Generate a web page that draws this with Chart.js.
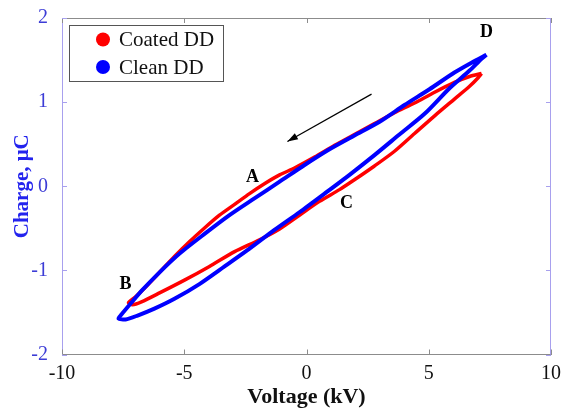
<!DOCTYPE html>
<html>
<head>
<meta charset="utf-8">
<script src="https://cdn.jsdelivr.net/npm/chart.js@4.4.1/dist/chart.umd.min.js"></script>
<style>
  html, body { margin: 0; padding: 0; background: #fff; }
  #wrap { width: 564px; height: 412px; position: relative; }
</style>
</head>
<body>
<div id="wrap"><canvas id="c" width="564" height="412"></canvas></div>
<script>
// ---- data (Voltage kV, Charge µC), each loop traced around ----
const cleanV = [7.36, 6.75, 6.05, 5.03, 4.01, 2.99, 1.96, 0.94, -0.08, -1.10, -2.13, -3.15, -4.17, -5.19, -6.01, -6.71, -7.20, -7.57, -7.69,
                -7.40, -6.91, -6.22, -5.40, -4.38, -3.35, -2.33, -1.31, -0.29, 0.74, 1.76, 2.78, 3.80, 4.83, 5.85, 6.67, 7.16, 7.36];
const cleanQ = [1.563, 1.469, 1.352, 1.153, 0.966, 0.767, 0.604, 0.440, 0.253, 0.054, -0.145, -0.344, -0.567, -0.800, -1.023, -1.233, -1.397, -1.525, -1.572,
                -1.584, -1.537, -1.455, -1.338, -1.163, -0.953, -0.742, -0.519, -0.309, -0.087, 0.136, 0.370, 0.615, 0.861, 1.165, 1.375, 1.516, 1.563];
const coatedV = [7.16, 6.67, 6.05, 5.24, 4.42, 3.60, 2.78, 1.96, 1.15, 0.33, -0.49, -1.10, -1.72, -2.33, -2.94, -3.56, -4.17, -4.79, -5.40, -6.01, -6.58, -6.99, -7.28,
                 -7.12, -6.75, -6.01, -4.99, -3.97, -2.94, -1.92, -1.10, -0.29, 0.53, 1.35, 1.96, 2.78, 3.60, 4.42, 5.24, 6.05, 6.67, 7.03, 7.16];
const coatedQ = [1.340, 1.305, 1.235, 1.118, 0.990, 0.873, 0.744, 0.615, 0.486, 0.346, 0.217, 0.135, 0.030, -0.087, -0.215, -0.344, -0.496, -0.660, -0.835, -1.023, -1.198, -1.315, -1.385,
                 -1.409, -1.374, -1.268, -1.116, -0.953, -0.777, -0.636, -0.507, -0.344, -0.180, -0.040, 0.077, 0.241, 0.416, 0.627, 0.837, 1.036, 1.188, 1.293, 1.340];
const seriesNames = ["Coated DD", "Clean DD"];
const xTicks = [-10, -5, 0, 5, 10];
const yTicks = [-2, -1, 0, 1, 2];
const pointLabels = ["A", "B", "C", "D"];
const pointLabelV = [-2.21, -7.4, 1.64, 7.36];
const pointLabelQ = [0.11, -1.17, -0.20, 1.83];
const arrowFromV = 2.66, arrowFromQ = 1.095, arrowToV = -0.78, arrowToQ = 0.533;

const toPts = (xs, ys) => xs.map((x, i) => ({x: x, y: ys[i]}));
const SERIF = "'Liberation Serif', 'Times New Roman', serif";
const BLUE_TXT = '#3c3cd6';

const decor = {
  id: 'decor',
  afterDraw(chart) {
    const ctx = chart.ctx, a = chart.chartArea;
    const xs = chart.scales.x, ys = chart.scales.y;
    ctx.save();
    // top and right borders
    ctx.lineWidth = 1;
    ctx.strokeStyle = '#8c8c8c';
    ctx.beginPath(); ctx.moveTo(a.left, a.top + 0.5); ctx.lineTo(a.right, a.top + 0.5); ctx.stroke();
    ctx.strokeStyle = '#a8a0ee';
    ctx.beginPath(); ctx.moveTo(a.right - 0.5, a.top); ctx.lineTo(a.right - 0.5, a.bottom); ctx.stroke();
    // inward ticks
    ctx.strokeStyle = '#8c8c8c';
    xTicks.forEach(v => {
      const p = Math.round(xs.getPixelForValue(v)) + 0.5;
      ctx.beginPath(); ctx.moveTo(p, a.bottom); ctx.lineTo(p, a.bottom - 5); ctx.stroke();
      ctx.beginPath(); ctx.moveTo(p, a.top); ctx.lineTo(p, a.top + 5); ctx.stroke();
    });
    ctx.strokeStyle = '#a8a0ee';
    yTicks.forEach(v => {
      const p = Math.round(ys.getPixelForValue(v)) + 0.5;
      ctx.beginPath(); ctx.moveTo(a.left, p); ctx.lineTo(a.left + 5, p); ctx.stroke();
      ctx.beginPath(); ctx.moveTo(a.right, p); ctx.lineTo(a.right - 5, p); ctx.stroke();
    });
    // arrow
    const x1 = xs.getPixelForValue(arrowFromV), y1 = ys.getPixelForValue(arrowFromQ);
    const x2 = xs.getPixelForValue(arrowToV), y2 = ys.getPixelForValue(arrowToQ);
    ctx.strokeStyle = '#000'; ctx.fillStyle = '#000'; ctx.lineWidth = 1.2;
    ctx.beginPath(); ctx.moveTo(x1, y1); ctx.lineTo(x2, y2); ctx.stroke();
    const ang = Math.atan2(y2 - y1, x2 - x1), L = 11, W = 0.32;
    ctx.beginPath();
    ctx.moveTo(x2, y2);
    ctx.lineTo(x2 - L * Math.cos(ang - W), y2 - L * Math.sin(ang - W));
    ctx.lineTo(x2 - L * Math.cos(ang + W), y2 - L * Math.sin(ang + W));
    ctx.closePath(); ctx.fill();
    // point labels
    ctx.font = 'bold 18px ' + SERIF;
    ctx.textAlign = 'center'; ctx.textBaseline = 'middle';
    pointLabels.forEach((t, i) => {
      ctx.fillText(t, xs.getPixelForValue(pointLabelV[i]), ys.getPixelForValue(pointLabelQ[i]));
    });
    // legend box
    const lx = a.left + 7, ly = a.top + 7, lw = 154, lh = 56;
    ctx.fillStyle = '#fff';
    ctx.fillRect(lx, ly, lw, lh);
    ctx.strokeStyle = '#555'; ctx.lineWidth = 1;
    ctx.strokeRect(lx + 0.5, ly + 0.5, lw, lh);
    const cols = ['#ff0000', '#0000ff'];
    ctx.font = '21px ' + SERIF; ctx.textAlign = 'left';
    seriesNames.forEach((n, i) => {
      const cy = ly + 14.5 + i * 27.5;
      ctx.fillStyle = cols[i];
      ctx.beginPath(); ctx.arc(lx + 34, cy, 7, 0, Math.PI * 2); ctx.fill();
      ctx.fillStyle = '#111';
      ctx.fillText(n, lx + 50, cy + 1);
    });
    ctx.restore();
  }
};

new Chart(document.getElementById('c'), {
  type: 'scatter',
  data: {
    datasets: [
      { label: seriesNames[1], data: toPts(cleanV, cleanQ), showLine: true, borderColor: '#0000ff',
        backgroundColor: '#0000ff', borderWidth: 4, pointRadius: 0, tension: 0.25, order: 1 },
      { label: seriesNames[0], data: toPts(coatedV, coatedQ), showLine: true, borderColor: '#ff0000',
        backgroundColor: '#ff0000', borderWidth: 3.5, pointRadius: 0, tension: 0.25, order: 2 }
    ]
  },
  options: {
    responsive: false,
    animation: false,
    layout: { padding: { top: 13, right: 13, left: 0, bottom: 0 } },
    plugins: { legend: { display: false }, tooltip: { enabled: false } },
    scales: {
      x: {
        type: 'linear', min: -10, max: 10,
        afterBuildTicks: s => { s.ticks = xTicks.map(v => ({value: v})); },
        afterFit: s => { s.height = 57.5; },
        grid: { display: false },
        border: { display: true, color: '#8c8c8c', width: 1 },
        ticks: { color: '#111', font: { family: SERIF, size: 20 }, padding: -1, maxRotation: 0 },
        title: { display: true, text: 'Voltage (kV)', color: '#111',
                 font: { family: SERIF, size: 22, weight: 'bold' }, padding: { top: 0, bottom: 1 } }
      },
      y: {
        type: 'linear', min: -2, max: 2,
        afterBuildTicks: s => { s.ticks = yTicks.map(v => ({value: v})); },
        afterFit: s => { s.width = 62; },
        grid: { display: false },
        border: { display: true, color: '#a8a0ee', width: 1 },
        ticks: { color: BLUE_TXT, font: { family: SERIF, size: 20 }, padding: 6 },
        title: { display: true, text: 'Charge, μC', color: '#2323ee',
                 font: { family: SERIF, size: 21, weight: 'bold' }, padding: { top: 10, bottom: 0 } }
      }
    }
  },
  plugins: [decor]
});
</script>
</body>
</html>
